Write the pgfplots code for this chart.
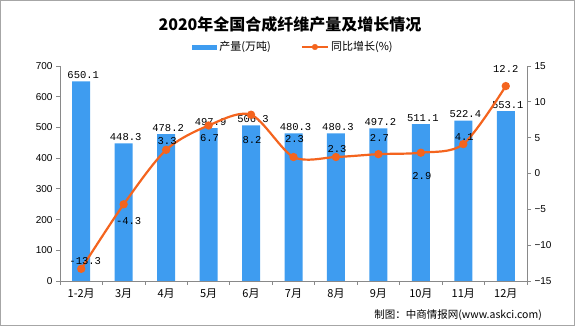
\documentclass[border=0pt]{standalone}
\usepackage{fontspec}
\usepackage{pgfplots}
\pgfplotsset{compat=1.18}
\setmainfont{Liberation Sans}
\newfontfamily\cjk{Noto Sans CJK SC}
\newfontfamily\mono{Liberation Mono}
\definecolor{barblue}{RGB}{62,156,240}
\definecolor{lineorange}{RGB}{244,100,30}
\definecolor{axgray}{RGB}{137,137,137}
\begin{document}
\begin{tikzpicture}
\useasboundingbox (0,0) rectangle (575pt,326pt);
\draw[gray!70, line width=1pt] (0.5pt,0.5pt) rectangle (574.5pt,325.5pt);
\node[font=\cjk\bfseries\fontsize{16}{16}\selectfont] at (290pt,302pt) {2020年全国合成纤维产量及增长情况};
\node[font=\cjk\fontsize{10.5}{10.5}\selectfont, anchor=east, inner sep=0pt] at (542pt,11pt) {制图：中商情报网(www.askci.com)};
\begin{axis}[
  at={(60pt,45pt)}, anchor=south west, scale only axis,
  width=467pt, height=215pt,
  xmin=-0.5, xmax=10.5, ymin=0, ymax=700,
  axis y line*=left, axis x line*=bottom,
  axis line style={draw=axgray, line width=0.8pt},
  ytick={0,100,...,700},
  xtick={-0.5,0.5,...,10.5}, xticklabels={},
  extra x ticks={0,1,...,10},
  extra x tick labels={1-2月,3月,4月,5月,6月,7月,8月,9月,10月,11月,12月},
  extra x tick style={major tick length=0pt},
  x tick label style={font=\cjk\fontsize{11}{11}\selectfont, yshift=-4pt},
  y tick label style={font=\fontsize{10}{10}\selectfont},
  /pgf/number format/assume math mode=true,
  tick style={draw=axgray, line width=0.8pt},
  major tick length=4pt, tick align=outside,
  legend style={draw=none, fill=none, at={(0.5,1)}, anchor=center, yshift=19pt,
    legend columns=2, font=\cjk\fontsize{11}{11}\selectfont,
    /tikz/every even column/.append style={column sep=28pt}},
]
\addplot[ybar, bar width=18pt, fill=barblue, draw=none,
  nodes near coords={\pgfmathprintnumber[assume math mode=true,fixed,fixed zerofill,precision=1]{\pgfplotspointmeta}},
  every node near coord/.append style={font=\mono\fontsize{10.5}{10.5}\selectfont, black, xshift=2pt, yshift=-1pt},
  legend image code/.code={\fill[barblue] (0pt,-2.5pt) rectangle (25pt,2.5pt);}]
coordinates {(0,650.1) (1,448.3) (2,478.2) (3,497.9) (4,506.3) (5,480.3) (6,480.3) (7,497.2) (8,511.1) (9,522.4) (10,553.1)};
\addlegendentry{产量(万吨)}
\addlegendimage{legend image code/.code={\draw[lineorange, line width=2.2pt] (0pt,0pt) -- (26pt,0pt); \fill[lineorange] (13pt,0pt) circle (2.8pt);}}
\addlegendentry{同比增长(\%)}
\end{axis}
\begin{axis}[
  at={(60pt,45pt)}, anchor=south west, scale only axis,
  width=467pt, height=215pt,
  xmin=-0.5, xmax=10.5, ymin=-15, ymax=15,
  axis y line*=right, axis x line=none,
  axis line style={draw=axgray, line width=0.8pt},
  ytick={-15,-10,...,15},
  yticklabels={−15,−10,−5,0,5,10,15},
  y tick label style={font=\fontsize{10}{10}\selectfont},
  tick style={draw=axgray, line width=0.8pt},
  major tick length=4pt, tick align=outside,
]
\addplot[smooth, lineorange, line width=2.2pt, mark=*, mark size=3pt,
  mark options={fill=lineorange, draw=lineorange},
  visualization depends on={\thisrow{dy} \as \dy},
  visualization depends on={\thisrow{dx} \as \dx},
  nodes near coords={\pgfmathprintnumber[assume math mode=true,fixed,precision=1]{\pgfplotspointmeta}},
  every node near coord/.append style={font=\mono\fontsize{10.5}{10.5}\selectfont, black, anchor=center, yshift=\dy pt, xshift=\dx pt}]
table {
x y dy dx
0 -13.3 8 4
1 -4.3 -17 5
2 3.3 9 1
3 6.7 -13 1
4 8.2 -25 1
5 2.3 18 1
6 2.3 8 1
7 2.7 16 1
8 2.9 -23 1
9 4.1 7 1
10 12.2 17 0
};
\end{axis}
\end{tikzpicture}
\end{document}
